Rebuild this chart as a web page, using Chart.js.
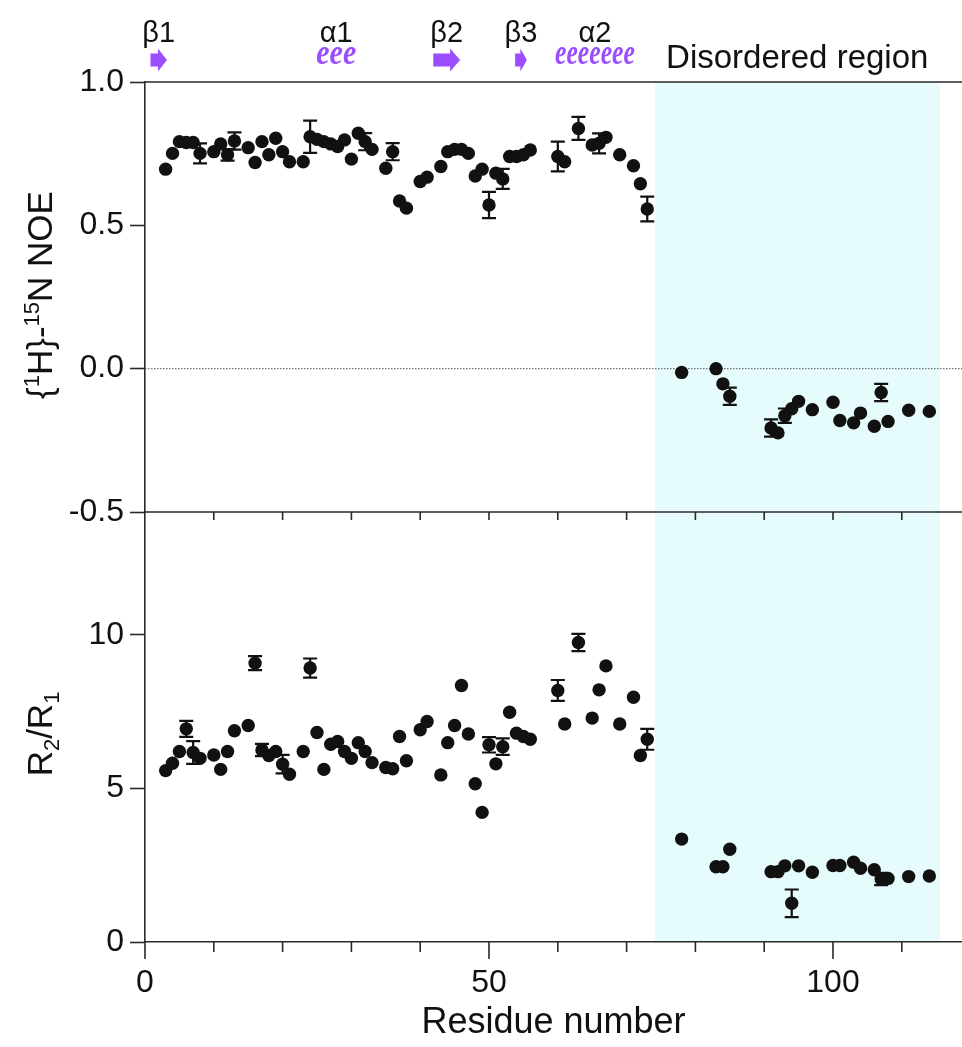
<!DOCTYPE html>
<html>
<head>
<meta charset="utf-8">
<script src="https://cdn.jsdelivr.net/npm/chart.js@4.4.1/dist/chart.umd.min.js"></script>
<style>
  html, body { margin: 0; padding: 0; background: #fff; }
</style>
</head>
<body>
<canvas id="relaxChart" width="962" height="1047"></canvas>
<script>
// residues measured (same set in both panels)
const residues = [3,4,5,6,7,8,10,11,12,13,15,16,17,18,19,20,21,23,24,25,26,27,28,29,30,31,32,33,
  35,36,37,38,40,41,43,44,45,46,47,48,49,50,51,52,53,54,55,56,60,61,63,65,66,67,69,71,72,73,
  78,83,84,85,91,92,93,94,95,97,100,101,103,104,106,107,108,111,114];

// {1H}-15N NOE
const noeValues = [0.696,0.751,0.792,0.789,0.789,0.751,0.757,0.784,0.746,0.794,0.771,0.719,0.792,0.746,0.804,0.757,0.722,0.722,0.809,0.800,0.792,0.784,0.775,0.798,0.731,0.821,0.792,0.765,
  0.699,0.757,0.585,0.560,0.653,0.668,0.705,0.757,0.765,0.765,0.751,0.672,0.696,0.571,0.682,0.662,0.740,0.740,0.746,0.763,0.740,0.722,0.838,0.780,0.786,0.807,0.746,0.708,0.645,0.557,
  -0.013,0.000,-0.053,-0.096,-0.207,-0.224,-0.164,-0.140,-0.114,-0.143,-0.117,-0.181,-0.189,-0.155,-0.201,-0.083,-0.184,-0.145,-0.149];
const noeErrRes  = [8,12,13,24,32,36,50,52,60,63,66,73,85,91,93,107];
const noeErrSize = [0.035,0.02,0.03,0.056,0.03,0.03,0.046,0.035,0.052,0.04,0.035,0.043,0.03,0.03,0.025,0.03];

// R2/R1
const r2r1Values = [5.58,5.82,6.20,6.94,6.17,5.98,6.09,5.62,6.20,6.88,7.05,9.08,6.25,6.07,6.20,5.79,5.46,6.20,8.92,6.82,5.62,6.44,6.53,6.20,5.98,6.49,6.20,5.84,
  5.68,5.64,6.69,5.90,6.91,7.18,5.44,6.49,7.05,8.35,6.77,5.15,4.22,6.42,5.80,6.36,7.48,6.80,6.69,6.60,8.19,7.10,9.75,7.29,8.21,8.99,7.10,7.97,6.07,6.60,
  3.35,2.45,2.45,3.02,2.29,2.29,2.48,1.26,2.48,2.27,2.49,2.49,2.60,2.40,2.35,2.05,2.07,2.13,2.15];
const r2ErrRes  = [6,7,16,17,20,24,50,52,60,63,73,94,107];
const r2ErrSize = [0.26,0.37,0.23,0.2,0.3,0.31,0.25,0.27,0.34,0.28,0.34,0.45,0.2];

// secondary structure
const ssNames = ['β1','α1','β2','β3','α2'];
const ssType  = ['E','H','E','E','H'];
const ssStart = [0.8, 24.9, 41.9, 53.8, 59.6];
const ssEnd   = [3.2, 30.7, 45.8, 55.5, 71.2];
const ssTurns = [0, 3, 0, 0, 7];

const disorderStart = 74.1;
const disorderEnd = 115.5;
const disorderLabel = 'Disordered region';

// axes
const xTickValues = [0,10,20,30,40,50,60,70,80,90,100,110];
const xLabelValues = [0,50,100];
const noeTicks = [-0.5,0,0.5,1.0];
const r2Ticks = [0,5,10];

const FONT = '"Liberation Sans", Arial, sans-serif';
const AXIS = '#2a2a2a';
const PURPLE = '#9b4dff';
const SHADE = 'rgb(230,251,251)';

const errorSets = [
  { res: noeErrRes, size: noeErrSize },
  { res: r2ErrRes, size: r2ErrSize }
];

function drawRich(ctx, parts, baseX, cy) {
  // rotated axis title with super/subscripts
  ctx.save();
  ctx.translate(baseX, cy);
  ctx.rotate(-Math.PI / 2);
  ctx.fillStyle = '#111';
  ctx.textBaseline = 'alphabetic';
  ctx.textAlign = 'left';
  let total = 0;
  parts.forEach(p => {
    ctx.font = (p.s ? 22 : 35) + 'px ' + FONT;
    p.w = ctx.measureText(p.t).width;
    total += p.w;
  });
  let x = -total / 2;
  parts.forEach(p => {
    ctx.font = (p.s ? 22 : 35) + 'px ' + FONT;
    const dy = p.s === 1 ? -13 : p.s === -1 ? 7 : 0;
    ctx.fillText(p.t, x, dy);
    x += p.w;
  });
  ctx.restore();
}

const shadePlugin = {
  id: 'shade',
  beforeDraw(chart) {
    const { ctx, chartArea, scales: { x } } = chart;
    const a = x.getPixelForValue(disorderStart), b = x.getPixelForValue(disorderEnd);
    ctx.save();
    ctx.fillStyle = SHADE;
    ctx.fillRect(a, chartArea.top, b - a, chartArea.bottom - chartArea.top);
    ctx.restore();
  },
  beforeDatasetsDraw(chart) {
    const { ctx, chartArea, scales: { x, yNoe } } = chart;
    ctx.save();
    // dotted zero line
    const y0 = yNoe.getPixelForValue(0);
    ctx.strokeStyle = '#555';
    ctx.lineWidth = 1;
    ctx.setLineDash([1.5, 1.5]);
    ctx.beginPath();
    ctx.moveTo(chartArea.left, y0);
    ctx.lineTo(chartArea.right, y0);
    ctx.stroke();
    ctx.setLineDash([]);
    // top frame and middle axis
    ctx.strokeStyle = AXIS;
    ctx.lineWidth = 1.6;
    const yTop = yNoe.getPixelForValue(1.0), yMid = yNoe.getPixelForValue(-0.5);
    ctx.beginPath();
    ctx.moveTo(chartArea.left, yTop);
    ctx.lineTo(chartArea.right, yTop);
    ctx.moveTo(chartArea.left, yMid);
    ctx.lineTo(chartArea.right, yMid);
    xTickValues.forEach(v => {
      if (v === 0) return;
      const px = x.getPixelForValue(v);
      ctx.moveTo(px, yMid);
      ctx.lineTo(px, yMid + 8);
    });
    ctx.stroke();
    ctx.restore();
  }
};

const errorBarPlugin = {
  id: 'errorBars',
  afterDatasetsDraw(chart) {
    const { ctx, scales } = chart;
    ctx.save();
    ctx.strokeStyle = '#111';
    ctx.lineWidth = 2.2;
    chart.data.datasets.forEach((ds, d) => {
      const ys = scales[ds.yAxisID];
      const set = errorSets[d];
      set.res.forEach((r, k) => {
        const pt = ds.data[residues.indexOf(r)];
        const e = set.size[k];
        const px = scales.x.getPixelForValue(r);
        const top = ys.getPixelForValue(pt.y + e), bot = ys.getPixelForValue(pt.y - e);
        ctx.beginPath();
        ctx.moveTo(px, top); ctx.lineTo(px, bot);
        ctx.moveTo(px - 7, top); ctx.lineTo(px + 7, top);
        ctx.moveTo(px - 7, bot); ctx.lineTo(px + 7, bot);
        ctx.stroke();
      });
    });
    ctx.restore();
  }
};

const decorPlugin = {
  id: 'decor',
  afterDraw(chart) {
    const { ctx, scales: { x, yNoe, yR } } = chart;
    ctx.save();
    // bottom x ticks: long at labelled values, short otherwise
    ctx.strokeStyle = AXIS;
    ctx.lineWidth = 1.6;
    ctx.beginPath();
    xTickValues.forEach(v => {
      const px = x.getPixelForValue(v);
      ctx.moveTo(px, x.top);
      ctx.lineTo(px, x.top + (xLabelValues.includes(v) ? 17 : 10));
    });
    ctx.stroke();

    // secondary structure row
    ssNames.forEach((name, i) => {
      const x0 = x.getPixelForValue(ssStart[i]), x1 = x.getPixelForValue(ssEnd[i]);
      const cx = (x0 + x1) / 2;
      ctx.fillStyle = '#111';
      ctx.font = '29px ' + FONT;
      ctx.textAlign = 'center';
      ctx.textBaseline = 'alphabetic';
      ctx.fillText(name, cx, 42);
      ctx.fillStyle = PURPLE;
      if (ssType[i] === 'E') {
        const head = Math.min(10, (x1 - x0) * 0.55);
        const cy = 60;
        ctx.beginPath();
        ctx.moveTo(x0, cy - 6.5);
        ctx.lineTo(x1 - head, cy - 6.5);
        ctx.lineTo(x1 - head, cy - 11.5);
        ctx.lineTo(x1, cy);
        ctx.lineTo(x1 - head, cy + 11.5);
        ctx.lineTo(x1 - head, cy + 6.5);
        ctx.lineTo(x0, cy + 6.5);
        ctx.closePath();
        ctx.fill();
      } else {
        const txt = 'e'.repeat(ssTurns[i]);
        ctx.font = 'italic bold 36px "Liberation Serif", serif';
        ctx.textAlign = 'left';
        const w = ctx.measureText(txt).width;
        ctx.save();
        ctx.translate(x0, 64);
        ctx.scale((x1 - x0) / w, 1);
        ctx.fillText(txt, 0, 0);
        ctx.restore();
      }
    });

    // disordered region label
    ctx.fillStyle = '#111';
    ctx.font = '33px ' + FONT;
    ctx.textAlign = 'center';
    ctx.fillText(disorderLabel, (x.getPixelForValue(disorderStart) + x.getPixelForValue(disorderEnd)) / 2, 68);

    // y titles
    drawRich(ctx, [{ t: '{' }, { t: '1', s: 1 }, { t: 'H}-' }, { t: '15', s: 1 }, { t: 'N NOE' }],
      52, (yNoe.top + yNoe.bottom) / 2 - 2);
    drawRich(ctx, [{ t: 'R' }, { t: '2', s: -1 }, { t: '/R' }, { t: '1', s: -1 }],
      52, (yR.top + yR.bottom) / 2 + 7);
    ctx.restore();
  }
};

const noeData = residues.map((r, i) => ({ x: r, y: noeValues[i] }));
const r2Data = residues.map((r, i) => ({ x: r, y: r2r1Values[i] }));

const tickFont = { family: FONT, size: 32 };

new Chart(document.getElementById('relaxChart'), {
  type: 'scatter',
  data: {
    datasets: [
      { label: 'NOE', data: noeData, yAxisID: 'yNoe' },
      { label: 'R2/R1', data: r2Data, yAxisID: 'yR' }
    ]
  },
  options: {
    responsive: false,
    animation: false,
    layout: { autoPadding: false, padding: { top: 82, left: 0, right: 0, bottom: 0 } },
    plugins: { legend: { display: false }, tooltip: { enabled: false } },
    elements: { point: { radius: 6.7, backgroundColor: '#111', borderWidth: 0, hoverRadius: 6.7 } },
    scales: {
      x: {
        type: 'linear', min: 0, max: 118.75,
        afterBuildTicks: s => { s.ticks = xTickValues.map(v => ({ value: v })); },
        afterFit: s => { s.height = 105; },
        grid: { display: false, drawTicks: false, tickLength: 0 },
        border: { display: true, color: AXIS, width: 1.6 },
        ticks: {
          autoSkip: false, maxRotation: 0, padding: 22, color: '#111', font: tickFont,
          callback: v => xLabelValues.includes(v) ? String(v) : ''
        },
        title: { display: true, text: 'Residue number', color: '#111',
          font: { family: FONT, size: 36 }, padding: { top: 0, bottom: 2 } }
      },
      yR: {
        type: 'linear', position: 'left', stack: 'panels', stackWeight: 1, min: 0, max: 14,
        afterBuildTicks: s => { s.ticks = r2Ticks.map(v => ({ value: v })); },
        afterFit: s => { s.width = 145; },
        grid: { display: true, drawOnChartArea: false, tickLength: 15, tickWidth: 1.6, tickColor: AXIS },
        border: { display: true, color: AXIS, width: 1.6 },
        ticks: { padding: 6, color: '#111', font: tickFont, callback: v => String(v) }
      },
      yNoe: {
        type: 'linear', position: 'left', stack: 'panels', stackWeight: 1, min: -0.5, max: 1.0,
        afterBuildTicks: s => { s.ticks = noeTicks.map(v => ({ value: v })); },
        afterFit: s => { s.width = 145; },
        grid: { display: true, drawOnChartArea: false, tickLength: 15, tickWidth: 1.6, tickColor: AXIS },
        border: { display: true, color: AXIS, width: 1.6 },
        ticks: { padding: 6, color: '#111', font: tickFont, callback: v => v.toFixed(1) }
      }
    }
  },
  plugins: [shadePlugin, errorBarPlugin, decorPlugin]
});
</script>
</body>
</html>
